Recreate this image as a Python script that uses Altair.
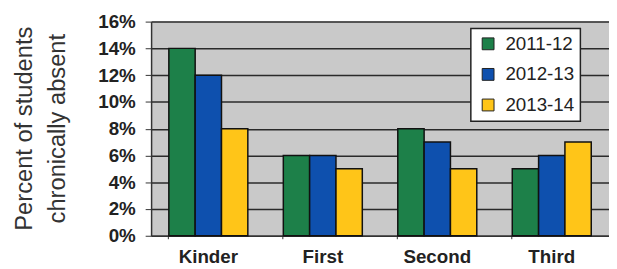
import altair as alt
import pandas as pd

grades = ["Kinder", "First", "Second", "Third"]
years = ["2011-12", "2012-13", "2013-14"]
v2011 = [14, 6, 8, 5]
v2012 = [12, 6, 7, 6]
v2013 = [8, 5, 5, 7]
colors = ["#1d8049", "#0e50ae", "#ffc518"]
y_ticks = [0, 2, 4, 6, 8, 10, 12, 14, 16]

rows = []
for yr, vals in zip(years, [v2011, v2012, v2013]):
    for g, v in zip(grades, vals):
        rows.append({"grade": g, "year": yr, "pct": v})
df = pd.DataFrame(rows)

chart = alt.Chart(df).mark_bar(stroke="#111111", strokeWidth=1.5).encode(
    x=alt.X("grade:N", sort=grades, title=None,
            scale=alt.Scale(paddingInner=0.31, paddingOuter=0.155),
            axis=alt.Axis(labelAngle=0, labelFontSize=19, labelFontWeight="bold",
                          labelColor="#222222", labelFont="Liberation Sans",
                          tickSize=3, tickColor="#333333", bandPosition=0,
                          labelPadding=9, domainColor="#333333", domainWidth=1.5,
                          grid=False)),
    xOffset=alt.XOffset("year:N", sort=years, scale=alt.Scale(paddingInner=0, paddingOuter=0)),
    y=alt.Y("pct:Q", scale=alt.Scale(domain=[0, 16], nice=False),
            title=["Percent of students", "chronically absent"],
            axis=alt.Axis(values=y_ticks, labelExpr="datum.value + '%'",
                          labelFontSize=19, labelFontWeight="bold", labelColor="#222222",
                          labelFont="Liberation Sans", tickSize=6, tickColor="#333333",
                          labelPadding=10, domainColor="#333333", domainWidth=1.5,
                          grid=True, gridColor="#2a2a2a", gridWidth=1.5, gridOpacity=1,
                          titleFontSize=24, titleFontWeight="normal", titleColor="#333333",
                          titleFont="Liberation Sans", titleLineHeight=33,
                          titleX=-128, titleY=108, titleBaseline="middle", titleAngle=270,
                          titleAlign="center")),
    color=alt.Color("year:N", sort=years, scale=alt.Scale(domain=years, range=colors),
                    legend=alt.Legend(title=None, orient="none", legendX=324, legendY=7,
                                      fillColor="white", strokeColor="#222222",
                                      padding=6, rowPadding=11, symbolType="square",
                                      symbolSize=144, symbolStrokeColor="#222222",
                                      symbolStrokeWidth=1, symbolOpacity=1,
                                      labelFontSize=19, labelFont="Liberation Sans",
                                      labelColor="#222222", symbolOffset=2, labelOffset=8)),
).properties(
    width=464, height=217,
    autosize=alt.AutoSizeParams(type="none"),
    padding={"left": 145, "top": 12, "right": 0, "bottom": 40},
).configure_view(fill="#c9c9c9", stroke=None).configure_legend(strokeWidth=1.5)

chart.save("out.html", embed_options={"renderer": "svg", "actions": False})
